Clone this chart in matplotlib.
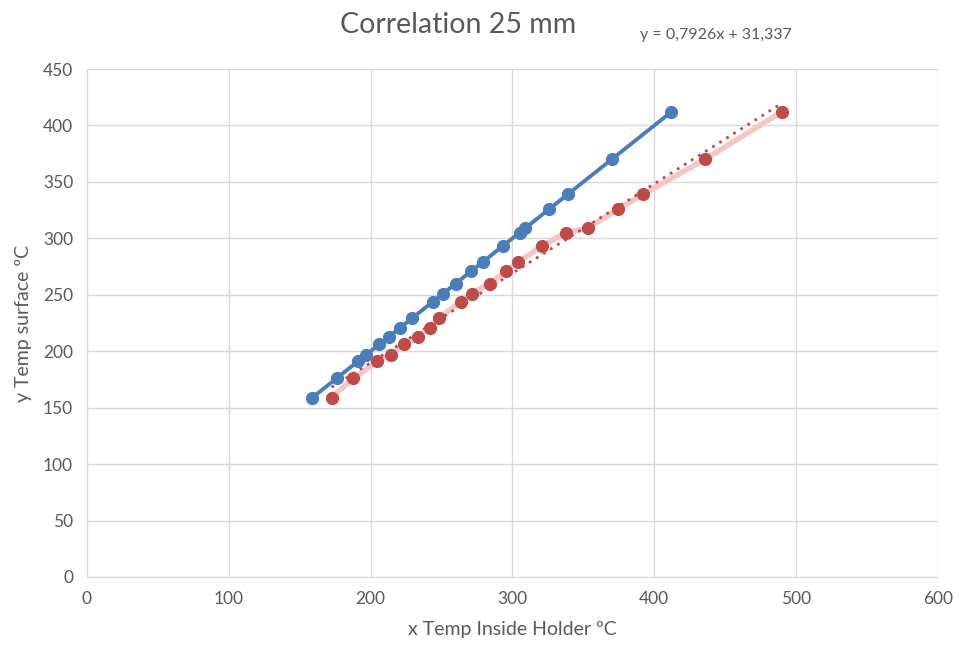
import numpy as np
import matplotlib
matplotlib.use("Agg")
import matplotlib.pyplot as plt

plt.rcParams['font.family'] = ['Lato', 'DejaVu Sans']

# Data
surface_temp = [159, 176, 191, 197, 206, 213, 221, 229, 244, 251, 260, 271, 279,
                293, 305, 309, 326, 339, 370, 412]
holder_temp_blue = [159, 176, 191, 197, 206, 213, 221, 229, 244, 251, 260, 271, 279,
                    293, 305, 309, 326, 339, 370, 412]
holder_temp_red = [172.5, 187.8, 204.7, 214.1, 223.7, 233.2, 241.6, 248.0, 263.5, 271.2,
                   284.1, 295.4, 304.1, 320.6, 337.7, 353.0, 374.6, 392.2, 435.7, 489.8]
trend_slope = 0.7926
trend_intercept = 31.337
x_ticks = [0, 100, 200, 300, 400, 500, 600]
y_ticks = [0, 50, 100, 150, 200, 250, 300, 350, 400, 450]

text_col = '#595959'
blue = '#4A7EBB'
red = '#BE4B48'

fig = plt.figure(figsize=(9.59, 6.49), dpi=100)
ax = fig.add_axes([0.0907, 0.111, 0.8873, 0.7826])

ax.plot(holder_temp_red, surface_temp, color='#F4C7C6', lw=4, zorder=2, solid_capstyle='round')
xr = np.array([holder_temp_red[0], holder_temp_red[-1]])
ax.plot(xr, trend_slope * xr + trend_intercept, color=red, lw=2, ls=(0, (1, 2)), zorder=3)
ax.plot(holder_temp_red, surface_temp, ls='none', marker='o', ms=8.5, color=red, zorder=4)
ax.plot(holder_temp_blue, surface_temp, color=blue, lw=2.8, marker='o', ms=8.5, zorder=5)

ax.set_xlim(0, 600)
ax.set_ylim(0, 450)
ax.set_xticks(x_ticks)
ax.set_yticks(y_ticks)
ax.grid(True, color='#D9D9D9', lw=1)
ax.set_axisbelow(True)
for s in ['top', 'right', 'left']:
    ax.spines[s].set_visible(False)
ax.spines['bottom'].set_color('#D9D9D9')
ax.tick_params(length=0, labelsize=12.5, colors=text_col, pad=10)

ax.set_xlabel('x Temp Inside Holder ºC', fontsize=14, color=text_col, labelpad=10)
ax.set_ylabel('y Temp surface ºC', fontsize=14, color=text_col, labelpad=8)

fig.text(0.478, 0.962, 'Correlation 25 mm', fontsize=20.5, color=text_col, ha='center', va='center')
fig.text(0.747, 0.946, 'y = 0,7926x + 31,337', fontsize=11.5, color=text_col, ha='center', va='center')

fig.savefig('out.png', dpi=100)
